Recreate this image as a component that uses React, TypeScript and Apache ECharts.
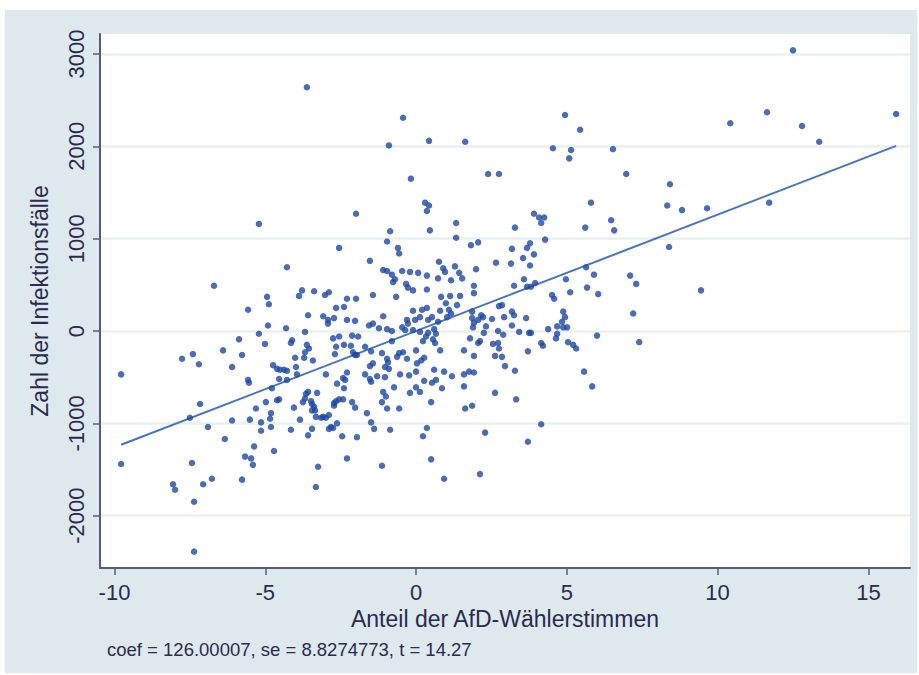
import React, { useEffect, useRef } from "react";
import * as echarts from "echarts";

// Scatter data: [AfD vote share (residual), infection cases (residual)]
const outliersTop: number[][] = [
  [-3.62, 2640], [-0.43, 2310], [-0.9, 2010], [0.43, 2060], [1.63, 2050], [-0.17, 1650],
  [4.94, 2340], [5.44, 2180], [4.54, 1980], [5.14, 1960], [5.08, 1870], [6.53, 1970],
  [2.39, 1700], [2.75, 1700], [6.97, 1700], [12.5, 3040], [11.64, 2370], [10.42, 2250],
  [12.8, 2220], [13.37, 2050], [15.92, 2350],
];

const leftSide: number[][] = [
  [-7.76, -300], [-9.78, -470], [-9.78, -1440], [-8.06, -1660], [-7.99, -1720], [-7.36, -2390],
];

const rightSide: number[][] = [
  [6.47, 1200], [6.57, 1090], [8.42, 1590], [8.33, 1360], [8.82, 1310], [9.65, 1330],
  [11.71, 1390], [8.39, 910], [7.1, 600], [7.3, 510], [9.45, 440], [7.2, 190], [7.4, -120],
];

const upperLeft: number[][] = [
  [-5.21, 1160], [-1.99, 1270], [-2.55, 900], [-4.28, 690], [-6.7, 490], [-0.86, 1080],
  [-0.96, 970], [-1.53, 760], [-1.09, 660], [-0.96, 650], [-0.8, 610], [-0.7, 560],
  [-0.76, 530], [-3.78, 440], [-3.88, 380], [-3.38, 430], [-3.02, 390], [-2.89, 420],
  [-4.94, 370], [-4.88, 290], [-2.29, 350], [-1.99, 350], [-1.43, 390], [-0.66, 370],
  [-5.57, 230], [-2.65, 250], [-2.39, 260], [-3.58, 170], [-3.08, 160], [-2.92, 120],
  [-2.92, 80], [-2.72, 140], [-2.29, 120], [-2.02, 110], [-1.09, 160], [-4.91, 60],
  [-4.31, 30], [-1.56, 60], [-1.43, 80], [-1.23, 30], [-0.96, 20], [-0.8, 0],
  [-5.21, -30], [-3.68, -10], [-5.87, -90], [-2.75, -80], [-2.55, -60], [-2.12, -50],
  [-1.92, -60],
];

const upperRight: number[][] = [
  [0.3, 1390], [0.43, 1360], [0.36, 1300], [5.8, 1390], [3.91, 1270], [4.08, 1230],
  [4.25, 1230], [4.15, 1170], [1.33, 1170], [0.46, 1090], [1.33, 1010], [3.28, 1120],
  [5.61, 1120], [4.28, 990], [1.82, 930], [2.06, 960], [3.78, 950], [3.68, 900],
  [3.55, 790], [3.78, 710], [3.91, 830], [3.18, 890], [3.15, 730], [2.65, 740],
  [-0.6, 900], [-0.56, 840], [0.76, 750], [0.9, 680], [0.96, 640], [1.29, 700],
  [1.43, 630], [1.53, 570], [1.99, 670], [-0.46, 650], [-0.2, 640], [0.07, 630],
  [0.36, 600], [-0.33, 510], [-0.27, 470], [-0.1, 440], [0.36, 450], [0.73, 570],
  [1.92, 490], [1.92, 410], [1.16, 550], [3.58, 560], [3.68, 480], [3.81, 480],
  [3.25, 490], [3.95, 520], [4.97, 560], [5.64, 690], [5.9, 610], [5.67, 470],
  [5.11, 420], [6.04, 400], [0.83, 370], [1.13, 380], [1.46, 380], [0.99, 300],
  [1.36, 280], [4.51, 390], [4.58, 350], [0.36, 250], [0.53, 150], [0.2, 230],
  [0.13, 150], [-0.1, 220], [-0.3, 120], [-0.27, 80], [-0.03, 120], [0.8, 220],
  [1.09, 230], [1.03, 150], [1.16, 190], [0.4, 120], [0.73, 100], [0.6, 20],
  [0.66, -30], [0.4, -20], [0.33, -60], [1.86, 210], [1.86, 140], [1.92, 90],
  [1.89, 40], [2.16, 170], [2.22, 150], [2.52, 130], [2.32, 50], [2.06, 120],
  [2.75, 270], [2.85, 280], [2.92, 150], [3.18, 210], [3.25, 170], [3.18, 60],
  [2.72, 0], [3.65, 140], [4.88, 210], [4.94, 150], [4.84, 100], [4.68, 50],
  [4.88, 40], [5.01, 40], [4.38, 20], [4.68, -30], [4.64, -80], [6.0, -50],
  [3.42, -10], [3.75, -20], [3.81, -20], [2.89, -40], [1.79, -80], [2.25, -20],
  [-0.46, 40], [-0.36, 10], [-0.1, 10], [0.13, -10], [0.56, -90],
];

const lowerRight: number[][] = [
  [0.23, -110], [0.63, -130], [-0.56, -240], [-0.43, -230], [-0.3, -300], [-0.63, -280],
  [0.0, -210], [0.03, -350], [0.17, -320], [0.27, -290], [0.8, -210], [1.59, -210],
  [1.92, -270], [2.06, -130], [2.12, -110], [2.55, -140], [2.72, -130], [2.75, -190],
  [2.62, -270], [2.85, -280], [2.95, -380], [3.71, -220], [4.15, -130], [4.21, -160],
  [5.04, -120], [5.21, -150], [5.31, -190], [3.28, -430], [5.57, -440], [5.84, -600],
  [-0.53, -470], [-0.23, -480], [0.0, -440], [0.6, -420], [0.93, -440], [1.19, -490],
  [1.59, -470], [1.76, -440], [1.92, -450], [0.0, -610], [0.13, -660], [-0.2, -670],
  [0.27, -540], [0.53, -560], [0.66, -530], [0.86, -620], [1.59, -600], [2.62, -670],
  [3.32, -740], [-0.56, -840], [0.5, -770], [1.63, -840], [1.86, -810], [4.15, -1010],
  [0.36, -1050], [0.23, -1140], [2.29, -1100], [3.71, -1200], [0.5, -1390], [2.12, -1550],
  [0.93, -1600],
];

const lowerLeft: number[][] = [
  [-7.4, -250], [-7.2, -360], [-6.4, -210], [-5.77, -260], [-6.1, -390], [-5.01, -140],
  [-4.15, -130], [-4.11, -100], [-3.62, -150], [-3.55, -190], [-3.68, -230], [-3.71, -290],
  [-3.42, -320], [-4.74, -370], [-4.61, -410], [-4.51, -420], [-4.38, -420], [-4.28, -430],
  [-4.01, -290], [-3.98, -390], [-3.95, -470], [-2.65, -170], [-2.69, -250], [-2.39, -150],
  [-2.16, -160], [-2.09, -230], [-2.02, -260], [-1.96, -260], [-1.69, -170], [-1.49, -220],
  [-1.13, -240], [-0.96, -300], [-0.93, -340], [-1.03, -390], [-0.9, -410], [-0.8, -110],
  [-1.43, -350], [-1.53, -380], [-1.69, -470], [-1.53, -520], [-1.49, -550], [-1.29, -490],
  [-1.03, -500], [-0.73, -610], [-2.29, -450], [-2.35, -530], [-2.42, -510], [-2.62, -570],
  [-2.39, -620], [-2.99, -470], [-5.57, -530], [-5.54, -560], [-4.78, -620], [-4.54, -520],
  [-4.28, -530], [-7.16, -790], [-7.5, -940], [-4.61, -750], [-4.54, -740], [-4.98, -770],
  [-5.31, -840], [-3.65, -680], [-3.58, -660], [-3.68, -730], [-3.75, -770], [-3.48, -760],
  [-3.45, -790], [-3.38, -820], [-3.35, -860], [-3.45, -860], [-3.28, -670], [-3.32, -930],
  [-3.15, -940], [-3.08, -930], [-2.99, -940], [-2.89, -910], [-4.05, -830], [-2.72, -780],
  [-2.65, -760], [-2.55, -740], [-2.42, -740], [-2.12, -770], [-2.02, -830], [-2.72, -810],
  [-1.63, -890], [-1.13, -770], [-1.0, -710], [-0.96, -840], [-1.09, -660], [-6.1, -970],
  [-5.51, -960], [-4.81, -890], [-4.84, -950], [-5.14, -990], [-3.85, -960], [-6.9, -1040],
  [-4.81, -1040], [-5.14, -1080], [-4.15, -1070], [-3.45, -1060], [-3.58, -1130], [-2.89, -1060],
  [-2.82, -1040], [-2.62, -1000], [-2.75, -1050], [-2.45, -1140], [-1.96, -1150], [-1.49, -990],
  [-1.39, -1060], [-0.86, -1070], [-6.34, -1170], [-5.37, -1250], [-5.67, -1360], [-5.47, -1380],
  [-5.41, -1450], [-4.71, -1300], [-7.43, -1430], [-3.25, -1470], [-3.32, -1690], [-2.29, -1380],
  [-1.13, -1460], [-7.06, -1660], [-6.77, -1600], [-5.77, -1610], [-7.36, -1850],
];

const xTicks = [-10, -5, 0, 5, 10, 15];
const yTicks = [-2000, -1000, 0, 1000, 2000, 3000];
const coef = 126.00007;
const fitRange = [-9.78, 15.92];
const xTitle = "Anteil der AfD-Wählerstimmen";
const yTitle = "Zahl der Infektionsfälle";
const note = "coef = 126.00007, se = 8.8274773, t = 14.27";

const points = [
  ...outliersTop, ...leftSide, ...rightSide, ...upperLeft, ...upperRight, ...lowerRight, ...lowerLeft,
];

export default function App() {
  const ref = useRef<HTMLDivElement>(null);
  useEffect(() => {
    if (!ref.current) return;
    const chart = echarts.init(ref.current, undefined, { renderer: "svg" });
    const font = "'Liberation Sans', Arial, sans-serif";
    const textColor = "#2b2b50";
    const axisColor = "#5a5a80";
    chart.setOption({
      animation: false,
      backgroundColor: "#ffffff",
      graphic: [
        {
          type: "rect",
          z: -10,
          shape: { x: 5, y: 10, width: 912, height: 663 },
          style: { fill: "#dde9ed" },
          silent: true,
        },
      ],
      title: {
        text: note,
        left: 102,
        top: 635,
        textStyle: { fontFamily: font, fontSize: 18.5, fontWeight: "normal", color: textColor },
      },
      grid: {
        left: 100,
        right: 9,
        top: 34,
        bottom: 107,
        show: true,
        backgroundColor: "#ffffff",
        borderWidth: 0,
      },
      xAxis: {
        type: "value",
        min: -10.48,
        max: 16.38,
        name: xTitle,
        nameLocation: "middle",
        nameGap: 38,
        nameTextStyle: { fontFamily: font, fontSize: 23, color: textColor },
        axisLine: { show: true, onZero: false, lineStyle: { color: axisColor, width: 2 } },
        axisTick: { show: true, length: 7, customValues: xTicks, lineStyle: { color: axisColor, width: 1.5 } },
        axisLabel: {
          customValues: xTicks,
          fontFamily: font,
          fontSize: 22,
          color: textColor,
          margin: 13,
          formatter: (v: number) => String(v),
        },
        splitLine: { show: false },
      },
      yAxis: {
        type: "value",
        min: -2567,
        max: 3217,
        name: yTitle,
        nameLocation: "middle",
        nameGap: 49,
        nameRotate: 90,
        nameTextStyle: { fontFamily: font, fontSize: 23, color: textColor },
        axisLine: { show: true, onZero: false, lineStyle: { color: axisColor, width: 2 } },
        axisTick: { show: true, length: 7, customValues: yTicks, lineStyle: { color: axisColor, width: 1.5 } },
        axisLabel: {
          customValues: yTicks,
          rotate: 90,
          fontFamily: font,
          fontSize: 22,
          color: textColor,
          margin: 13,
          formatter: (v: number) => String(v),
        },
        splitLine: { show: true, lineStyle: { color: "#e8f0f2", width: 2.5 } },
      },
      series: [
        {
          type: "scatter",
          data: points,
          symbol: "circle",
          symbolSize: 6.5,
          itemStyle: { color: "#1d48a2" },
          z: 3,
        },
        {
          type: "line",
          data: fitRange.map((x) => [x, coef * x]),
          symbol: "none",
          lineStyle: { color: "#4274c2", width: 2 },
          z: 2,
        },
      ],
    });
    return () => chart.dispose();
  }, []);
  return (
    <div
      ref={ref}
      style={{ position: "fixed", left: 0, top: 0, width: 919, height: 675 }}
    />
  );
}
